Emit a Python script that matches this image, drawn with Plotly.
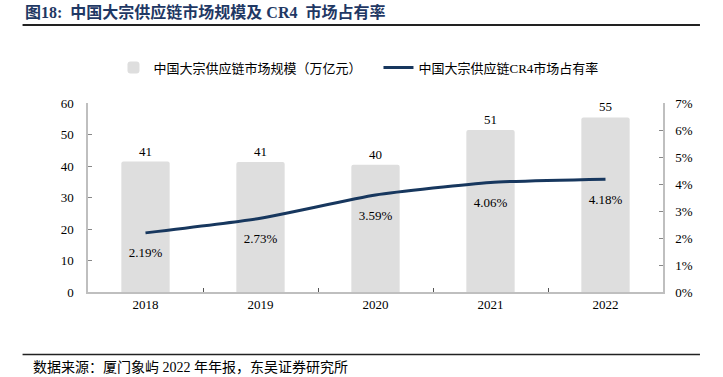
import plotly.graph_objects as go

years = ["2018", "2019", "2020", "2021", "2022"]
market_size = [41.4, 41.3, 40.4, 51.4, 55.4]
cr4_share = [2.19, 2.73, 3.59, 4.06, 4.18]
size_labels = ["41", "41", "40", "51", "55"]
share_labels = ["2.19%", "2.73%", "3.59%", "4.06%", "4.18%"]
left_ticks = [0, 10, 20, 30, 40, 50, 60]
right_ticks = [0, 1, 2, 3, 4, 5, 6, 7]
right_tick_labels = [f"{v}%" for v in right_ticks]

SERIF = "Liberation Serif, Times New Roman, Noto Sans CJK SC, serif"
CJK = "Liberation Serif, Noto Sans CJK SC, serif"
AXIS_COLOR = "#BFBFBF"
NAVY = "#17375E"

L, R, T, B = 87.5, 60, 103.3, 85
W, H = 723, 377
PW = W - L - R
PH = H - T - B


def px(x):
    return (x - L) / PW


def py(y):
    return (H - B - y) / PH


fig = go.Figure()
fig.add_trace(go.Bar(
    x=years, y=market_size, name="中国大宗供应链市场规模（万亿元）",
    marker=dict(color="#DEDEDE", line=dict(width=0), cornerradius=2),
    width=0.42, text=size_labels, textposition="outside",
    textfont=dict(family=SERIF, size=13, color="#000000"),
    cliponaxis=False,
))
fig.add_trace(go.Scatter(
    x=years, y=cr4_share, name="中国大宗供应链CR4市场占有率",
    mode="lines+markers+text", yaxis="y2",
    line=dict(color=NAVY, width=3, shape="spline", smoothing=0.5),
    marker=dict(size=22, color="rgba(0,0,0,0)", line=dict(width=0)),
    text=share_labels, textposition="bottom center",
    textfont=dict(family=SERIF, size=13, color="#000000"),
    cliponaxis=False,
))

fig.update_layout(
    width=W, height=H,
    margin=dict(l=L, r=R, t=T, b=B, pad=0, autoexpand=False),
    paper_bgcolor="white", plot_bgcolor="white",
    showlegend=True,
    legend=dict(orientation="h", x=px(113), y=py(68), xanchor="left", yanchor="middle",
                font=dict(family=CJK, size=13, color="#000000"),
                entrywidth=220, entrywidthmode="pixels", itemwidth=30,
                bgcolor="rgba(0,0,0,0)"),
    bargap=0.58,
    xaxis=dict(type="category", showline=True, linecolor=AXIS_COLOR, linewidth=1.5,
               ticks="inside", tickson="boundaries", ticklen=4, tickcolor="#555555",
               tickfont=dict(family=SERIF, size=13, color="#000000"), showgrid=False,
               zeroline=False),
    yaxis=dict(range=[0, 60], tickvals=left_ticks, showline=True, linecolor=AXIS_COLOR,
               linewidth=1.5, ticks="inside", ticklen=4, tickcolor="#888888",
               tickfont=dict(family=SERIF, size=13, color="#000000"), showgrid=False,
               zeroline=False, ticklabelstandoff=10),
    yaxis2=dict(range=[0, 7], tickvals=right_ticks, ticktext=right_tick_labels,
                overlaying="y", side="right", showline=True, linecolor=AXIS_COLOR,
                linewidth=1.5, ticks="inside", ticklen=4, tickcolor="#888888",
                tickfont=dict(family=SERIF, size=13, color="#000000"), showgrid=False,
                zeroline=False, ticklabelstandoff=8),
)

# Title
fig.add_annotation(
    text="<b>图18:  中国大宗供应链市场规模及 CR4  市场占有率</b>",
    xref="paper", yref="paper", x=px(22), y=py(12), xanchor="left", yanchor="middle",
    showarrow=False, font=dict(family=CJK, size=16, color="#1F3864"),
)
fig.add_shape(type="line", xref="paper", yref="paper", x0=px(22), x1=px(700),
              y0=py(25.5), y1=py(25.5), line=dict(color="#222222", width=2))
fig.add_shape(type="line", xref="paper", yref="paper", x0=px(22), x1=px(700),
              y0=py(354.5), y1=py(354.5), line=dict(color="#222222", width=1.5))
fig.add_annotation(
    text="数据来源：厦门象屿 2022 年年报，东吴证券研究所",
    xref="paper", yref="paper", x=px(30), y=py(367), xanchor="left", yanchor="middle",
    showarrow=False, font=dict(family=CJK, size=14, color="#000000"),
)

fig.write_html(
    "out.html",
    config={"displayModeBar": False},
    post_script="document.body.style.margin='0';document.body.style.overflow='hidden';",
)
